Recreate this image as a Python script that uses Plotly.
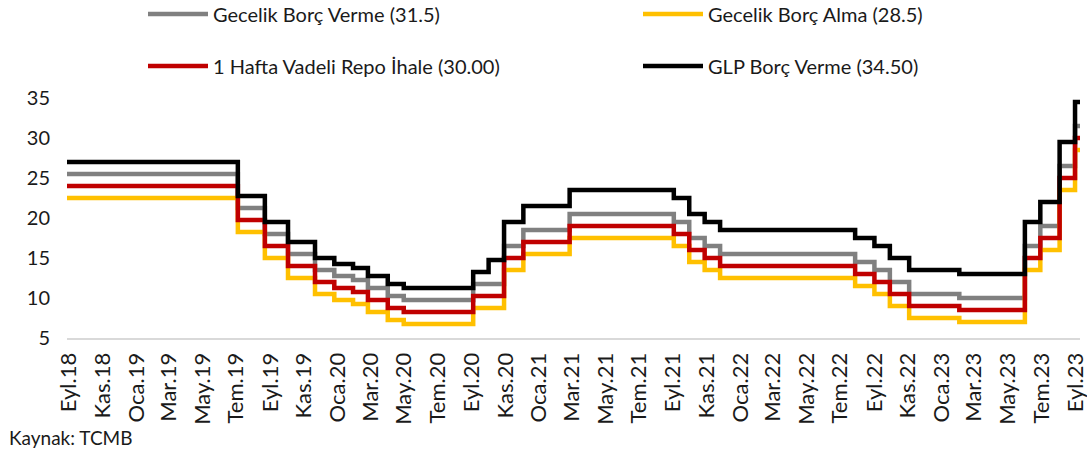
import plotly.graph_objects as go

# change dates (step starts) and final end date
dates = ["2018-09-18", "2019-07-25", "2019-09-12", "2019-10-24", "2019-12-12",
         "2020-01-16", "2020-02-19", "2020-03-17", "2020-04-22", "2020-05-21",
         "2020-09-24", "2020-10-22", "2020-11-19", "2020-12-24", "2021-03-18",
         "2021-09-23", "2021-10-21", "2021-11-18", "2021-12-16", "2022-08-18",
         "2022-09-22", "2022-10-20", "2022-11-24", "2023-02-23", "2023-06-22",
         "2023-07-20", "2023-08-24", "2023-09-21", "2023-09-30"]

gecelik_borc_verme = [25.5, 21.25, 18.0, 15.5, 13.5, 12.75, 12.25, 11.25, 10.25, 9.75,
                      11.75, 11.75, 16.5, 18.5, 20.5, 19.5, 17.5, 16.5, 15.5, 14.5,
                      13.5, 12.0, 10.5, 10.0, 16.5, 19.0, 26.5, 31.5, 31.5]
gecelik_borc_alma = [22.5, 18.25, 15.0, 12.5, 10.5, 9.75, 9.25, 8.25, 7.25, 6.75,
                     8.75, 8.75, 13.5, 15.5, 17.5, 16.5, 14.5, 13.5, 12.5, 11.5,
                     10.5, 9.0, 7.5, 7.0, 13.5, 16.0, 23.5, 28.5, 28.5]
repo_1_hafta = [24.0, 19.75, 16.5, 14.0, 12.0, 11.25, 10.75, 9.75, 8.75, 8.25,
                10.25, 10.25, 15.0, 17.0, 19.0, 18.0, 16.0, 15.0, 14.0, 13.0,
                12.0, 10.5, 9.0, 8.5, 15.0, 17.5, 25.0, 30.0, 30.0]
glp_borc_verme = [27.0, 22.75, 19.5, 17.0, 15.0, 14.25, 13.75, 12.75, 11.75, 11.25,
                  13.25, 14.75, 19.5, 21.5, 23.5, 22.5, 20.5, 19.5, 18.5, 17.5,
                  16.5, 15.0, 13.5, 13.0, 19.5, 22.0, 29.5, 34.5, 34.5]

tick_dates = ["2018-09-22", "2018-11-22", "2019-01-22", "2019-03-22", "2019-05-22",
              "2019-07-22", "2019-09-22", "2019-11-22", "2020-01-22", "2020-03-22",
              "2020-05-22", "2020-07-22", "2020-09-22", "2020-11-22", "2021-01-22",
              "2021-03-22", "2021-05-22", "2021-07-22", "2021-09-22", "2021-11-22",
              "2022-01-22", "2022-03-22", "2022-05-22", "2022-07-22", "2022-09-22",
              "2022-11-22", "2023-01-22", "2023-03-22", "2023-05-22", "2023-07-22",
              "2023-09-22"]
tick_labels = ["Eyl.18", "Kas.18", "Oca.19", "Mar.19", "May.19", "Tem.19", "Eyl.19",
               "Kas.19", "Oca.20", "Mar.20", "May.20", "Tem.20", "Eyl.20", "Kas.20",
               "Oca.21", "Mar.21", "May.21", "Tem.21", "Eyl.21", "Kas.21", "Oca.22",
               "Mar.22", "May.22", "Tem.22", "Eyl.22", "Kas.22", "Oca.23", "Mar.23",
               "May.23", "Tem.23", "Eyl.23"]
y_ticks = [5, 10, 15, 20, 25, 30, 35]

FONT = "Lato"
TXT = "#1a1a1a"

fig = go.Figure()
series = [
    ("Gecelik Borç Verme (31.5)", gecelik_borc_verme, "#808080", "legend"),
    ("Gecelik Borç Alma (28.5)", gecelik_borc_alma, "#FFC000", "legend"),
    ("1 Hafta Vadeli Repo İhale (30.00)", repo_1_hafta, "#C00000", "legend2"),
    ("GLP Borç Verme (34.50)", glp_borc_verme, "#000000", "legend2"),
]
for name, vals, col, leg in series:
    fig.add_trace(go.Scatter(x=dates, y=vals, mode="lines", name=name,
                             line=dict(color=col, width=4.5, shape="hv"),
                             legend=leg, hoverinfo="skip"))

W, H = 1087, 452
L, R, T, B = 67, 7, 98, 114
pw, ph = W - L - R, H - T - B

def px_x(x):
    return (x - L) / pw

def px_y(y):
    return (H - B - y) / ph

leg_common = dict(orientation="h", xanchor="left", yanchor="middle",
                  font=dict(family=FONT, size=20, color=TXT),
                  bgcolor="rgba(0,0,0,0)", entrywidth=420, entrywidthmode="pixels",
                  itemwidth=60, traceorder="normal")

fig.update_layout(
    width=W, height=H,
    margin=dict(l=L, r=R, t=T, b=B, autoexpand=False),
    paper_bgcolor="white", plot_bgcolor="white",
    font=dict(family=FONT, size=20, color=TXT),
    legend=dict(x=px_x(143), y=px_y(14), **leg_common),
    legend2=dict(x=px_x(143), y=px_y(66), **leg_common),
    xaxis=dict(type="date", range=["2018-09-18", "2023-09-30"],
               tickmode="array", tickvals=tick_dates, ticktext=tick_labels,
               tickangle=-90, showgrid=False, zeroline=False,
               showline=True, linecolor="#d9d9d9", linewidth=2,
               ticks="", ticklabelstandoff=4, ticklabeloverflow="allow",
               tickfont=dict(family=FONT, size=22, color=TXT)),
    yaxis=dict(range=[5, 35], tickmode="array", tickvals=y_ticks,
               showgrid=False, zeroline=False, showline=False, ticks="",
               ticklabelstandoff=16,
               tickfont=dict(family=FONT, size=20, color=TXT)),
    annotations=[dict(text="Kaynak: TCMB", xref="paper", yref="paper",
                      x=px_x(7), y=px_y(437), xanchor="left", yanchor="middle",
                      showarrow=False, font=dict(family=FONT, size=19, color=TXT))],
    showlegend=True,
)

fig.write_html("out.html", config={"displayModeBar": False},
               post_script="document.body.style.margin='0';")
